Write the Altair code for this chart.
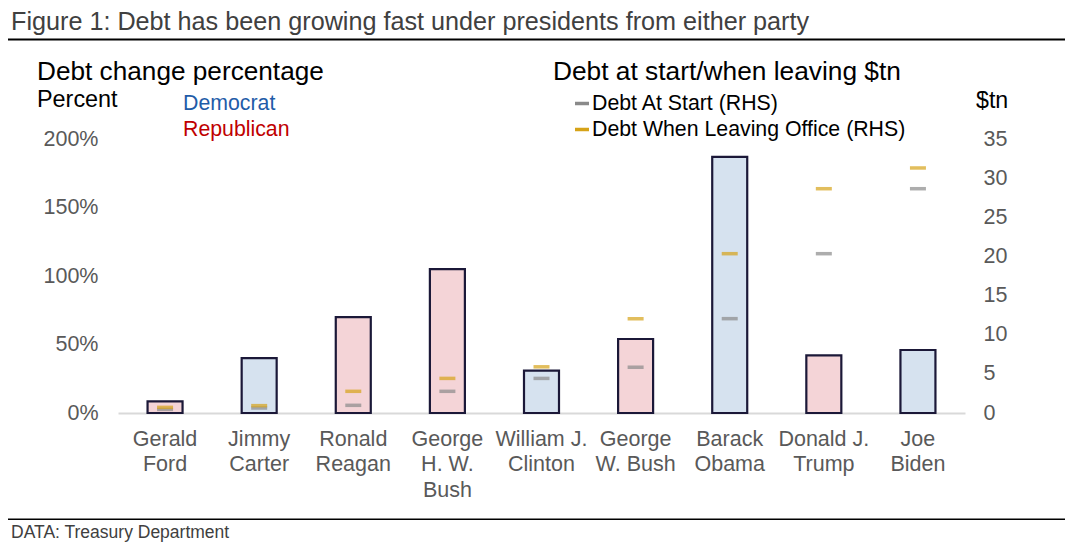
import altair as alt
import pandas as pd

presidents = ["Gerald|Ford", "Jimmy|Carter", "Ronald|Reagan", "George|H. W.|Bush",
              "William J.|Clinton", "George|W. Bush", "Barack|Obama", "Donald J.|Trump", "Joe|Biden"]
party = ["Republican", "Democrat", "Republican", "Republican", "Democrat",
         "Republican", "Democrat", "Republican", "Democrat"]
change_pct = [8.5, 40, 70, 105, 31, 54, 187, 42, 46]
debt_start = [0.46, 0.64, 0.98, 2.77, 4.42, 5.85, 12.05, 20.35, 28.65]
debt_end = [0.72, 0.94, 2.77, 4.42, 5.9, 12.05, 20.35, 28.65, 31.3]

df = pd.DataFrame({
    "president": presidents,
    "party": party,
    "change": change_pct,
    "start": debt_start,
    "end": debt_end,
})

FONT = "Liberation Sans"
W, H = 847, 274
LEFT, TOP = 110, 131
OX, OY = LEFT + 8, TOP + 8

xenc = alt.X("president:N", sort=presidents, title=None,
             scale=alt.Scale(paddingInner=0.0, paddingOuter=0.0),
             axis=alt.Axis(labelExpr="split(datum.value, '|')", labelAngle=0,
                           labelColor="#595959", labelFont=FONT, labelFontSize=21.5,
                           labelLineHeight=25.3, labelPadding=15.5, ticks=False,
                           domainColor="#d9d9d9", domainWidth=2, labelBaseline="top"))

bars = alt.Chart(df).mark_bar(size=35, stroke="#1b1838", strokeWidth=2.2).encode(
    x=xenc,
    y=alt.Y("change:Q", title=None,
            scale=alt.Scale(domain=[0, 200], nice=False),
            axis=alt.Axis(values=[0, 50, 100, 150, 200], labelExpr="datum.value + '%'",
                          labelColor="#595959", labelFont=FONT, labelFontSize=21.5,
                          labelPadding=20, ticks=False, domain=False, grid=False)),
    color=alt.Color("party:N", legend=None,
                    scale=alt.Scale(domain=["Democrat", "Republican"],
                                    range=["#d6e2ef", "#f4d4d7"])),
)

right_axis = alt.Axis(orient="right", values=[0, 5, 10, 15, 20, 25, 30, 35],
                      labelColor="#595959", labelFont=FONT, labelFontSize=21.5,
                      labelPadding=18, ticks=False, domain=False, grid=False, title=None)

tick_start = alt.Chart(df).mark_tick(size=16, thickness=3.5, color="#8a8a8a").encode(
    x=alt.X("president:N", sort=presidents),
    y=alt.Y("start:Q", title=None, scale=alt.Scale(domain=[0, 35], nice=False), axis=right_axis),
)
tick_end = alt.Chart(df).mark_tick(size=16, thickness=3.5, color="#d6a318").encode(
    x=alt.X("president:N", sort=presidents),
    y=alt.Y("end:Q", title=None, scale=alt.Scale(domain=[0, 35], nice=False), axis=right_axis),
)
ticks = alt.layer(tick_start, tick_end)


def txt(text, px, py, size, color="#000000", align="left"):
    return alt.Chart(alt.Data(values=[{}])).mark_text(
        text=text, font=FONT, fontSize=size, color=color, align=align, baseline="middle"
    ).encode(x=alt.value(px - OX), y=alt.value(py - OY))


def hrule(px1, px2, py, color, width):
    return alt.Chart(alt.Data(values=[{}])).mark_rule(color=color, strokeWidth=width).encode(
        x=alt.value(px1 - OX), x2=alt.value(px2 - OX), y=alt.value(py - OY))


annotations = [
    txt("Figure 1: Debt has been growing fast under presidents from either party", 11, 22, 25.2, "#404040"),
    hrule(8, 1065, 39.5, "#000000", 2),
    txt("Debt change percentage", 37, 72, 26.2),
    txt("Percent", 37, 100, 23.4),
    txt("Democrat", 183, 104, 21.3, "#1f5ca8"),
    txt("Republican", 183, 130, 21.3, "#c00000"),
    txt("Debt at start/when leaving $tn", 553, 72, 26.3),
    hrule(575, 589, 103.5, "#8a8a8a", 3.5),
    txt("Debt At Start (RHS)", 592, 104, 21.3),
    hrule(575, 589, 129.5, "#d6a318", 3.5),
    txt("Debt When Leaving Office (RHS)", 592, 130, 21.3),
    txt("$tn", 976, 101, 23.2),
    hrule(8, 1065, 519.3, "#000000", 1.5),
    txt("DATA: Treasury Department", 11, 533, 17.5, "#404040"),
]

chart = alt.layer(bars, ticks, *annotations).resolve_scale(y="independent").properties(
    width=W, height=H,
    background="white",
    autosize=alt.AutoSizeParams(type="none"),
    padding={"left": LEFT, "top": TOP, "right": 1057 - LEFT - W, "bottom": 540 - TOP - H},
).configure_view(strokeWidth=0, stroke="transparent")

chart.save("out.html", embed_options={"renderer": "svg", "actions": False})
